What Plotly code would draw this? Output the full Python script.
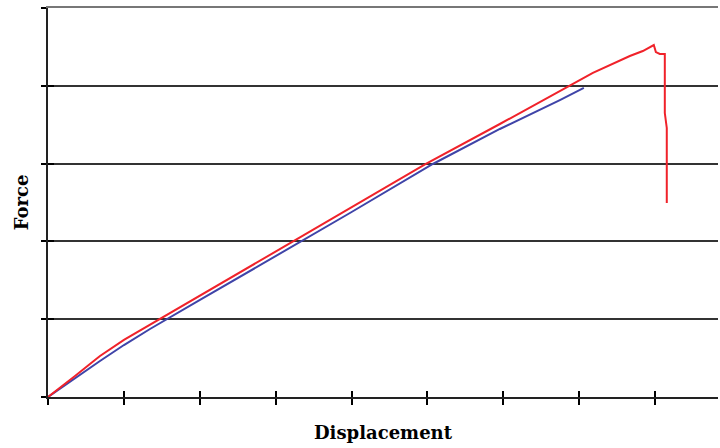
import plotly.graph_objects as go

# Red series (displacement, force) in axis units
red_x = [0, 0.158, 0.356, 0.553, 0.685, 1.001, 1.476, 2.003, 2.661, 3.254, 3.979,
         4.980, 5.955, 6.772, 7.181, 7.668, 7.839, 7.984, 8.011, 8.063, 8.129,
         8.129, 8.155, 8.155]
red_y = [0, 0.116, 0.270, 0.424, 0.527, 0.733, 1.003, 1.298, 1.671, 2.005, 2.416,
         2.995, 3.509, 3.946, 4.165, 4.383, 4.447, 4.524, 4.434, 4.409, 4.409,
         3.650, 3.458, 2.494]

# Blue series
blue_x = [0, 0.356, 0.685, 1.001, 1.344, 2.003, 3.346, 3.979, 5.072, 5.955, 6.746, 7.062]
blue_y = [0, 0.244, 0.463, 0.668, 0.874, 1.247, 2.005, 2.365, 2.995, 3.445, 3.817, 3.972]

x_max = 8.83
y_max = 5

fig = go.Figure()
fig.add_trace(go.Scatter(x=blue_x, y=blue_y, mode="lines",
                         line=dict(color="#3f44a8", width=2), showlegend=False))
fig.add_trace(go.Scatter(x=red_x, y=red_y, mode="lines",
                         line=dict(color="#f0222a", width=2), showlegend=False))
# invisible traces for overlay axes (crossing ticks, top border)
fig.add_trace(go.Scatter(x=[0], y=[0], xaxis="x2", yaxis="y2", mode="markers",
                         marker=dict(opacity=0), showlegend=False, hoverinfo="skip"))
fig.add_trace(go.Scatter(x=[0], y=[0], xaxis="x3", yaxis="y2", mode="markers",
                         marker=dict(opacity=0), showlegend=False, hoverinfo="skip"))

title_font = dict(family="DejaVu Serif", size=18, color="black")

fig.update_layout(
    width=720, height=448,
    margin=dict(l=48, r=2, t=8, b=51, autoexpand=False),
    paper_bgcolor="white", plot_bgcolor="white",
    xaxis=dict(range=[0, x_max], dtick=1, tick0=0, showgrid=False, zeroline=False,
               showline=True, linecolor="#222", linewidth=2, automargin=False,
               ticks="outside", ticklen=6, tickwidth=1.5, tickcolor="black",
               showticklabels=False,
               title=dict(text="<b>Displacement</b>", font=title_font, standoff=22)),
    yaxis=dict(range=[0, y_max], dtick=1, tick0=0, showgrid=True, gridcolor="#333",
               gridwidth=1.5, zeroline=False, automargin=False,
               showline=True, linecolor="#222", linewidth=2,
               ticks="outside", ticklen=5, tickwidth=1.5, tickcolor="black",
               showticklabels=False,
               title=dict(text="<b>Force</b>", font=title_font, standoff=8)),
    xaxis2=dict(range=[0, x_max], dtick=1, tick0=0, overlaying="x", anchor="y2",
                side="bottom", showgrid=False, zeroline=False, showline=False,
                ticks="inside", ticklen=6, tickwidth=1.5, tickcolor="black",
                showticklabels=False, automargin=False),
    xaxis3=dict(range=[0, x_max], overlaying="x", anchor="y2", side="top",
                showgrid=False, zeroline=False, showline=True, linecolor="#777",
                linewidth=2, ticks="", showticklabels=False, automargin=False),
    yaxis2=dict(range=[0, y_max], dtick=1, tick0=0, overlaying="y", anchor="x2",
                side="left", showgrid=False, zeroline=False, showline=False,
                ticks="inside", ticklen=6, tickwidth=1.5, tickcolor="black",
                showticklabels=False, automargin=False),
)

fig.write_html("out.html", config={"displayModeBar": False},
               post_script="document.body.style.margin='0px';")
